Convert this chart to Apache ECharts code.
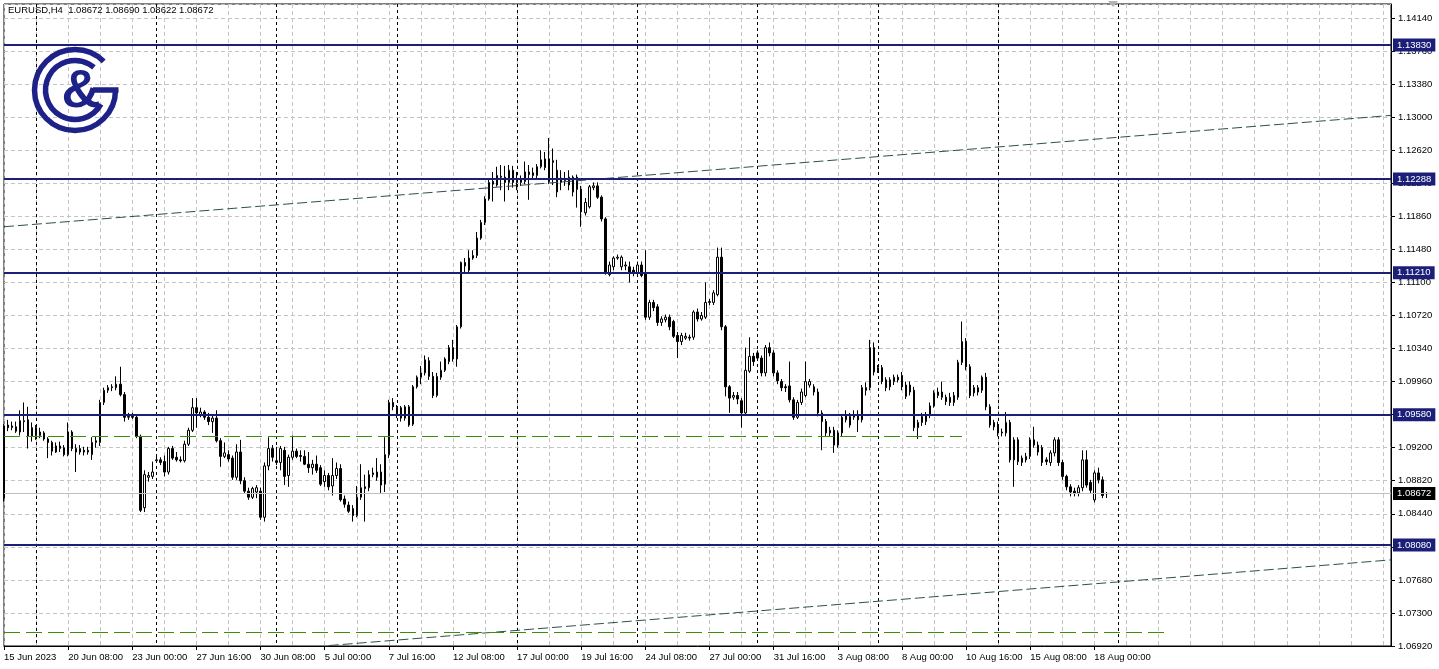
<!DOCTYPE html>
<html><head><meta charset="utf-8">
<script src="https://cdn.jsdelivr.net/npm/echarts@6/dist/echarts.min.js"></script>
<style>html,body{margin:0;padding:0;background:#fff;}#c{width:1439px;height:669px;}</style>
</head><body><div id="c"></div>
<script>
const titleText = 'EURUSD,H4  1.08672 1.08690 1.08622 1.08672';
const tickLabels = ['15 Jun 2023','20 Jun 08:00','23 Jun 00:00','27 Jun 16:00','30 Jun 08:00','5 Jul 00:00','7 Jul 16:00','12 Jul 08:00','17 Jul 00:00','19 Jul 16:00','24 Jul 08:00','27 Jul 00:00','31 Jul 16:00','3 Aug 08:00','8 Aug 00:00','10 Aug 16:00','15 Aug 08:00','18 Aug 00:00'];
const opens = [1.0862,1.0946,1.0943,1.0944,1.0938,1.0951,1.0952,1.0933,1.0943,1.0934,
1.0937,1.0930,1.0926,1.0915,1.0919,1.0920,1.0912,1.0938,1.0919,1.0915,
1.0917,1.0915,1.0912,1.0926,1.0926,1.0972,1.0986,1.0989,1.0989,1.0993,
1.0981,1.0955,1.0956,1.0955,1.0933,1.0851,1.0886,1.0887,1.0905,1.0906,
1.0904,1.0892,1.0919,1.0909,1.0906,1.0905,1.0924,1.0940,1.0966,1.0958,
1.0961,1.0955,1.0950,1.0954,1.0928,1.0910,1.0912,1.0908,1.0886,1.0915,
1.0882,1.0870,1.0863,1.0869,1.0870,1.0840,1.0899,1.0919,1.0905,1.0903,
1.0917,1.0888,1.0909,1.0916,1.0911,1.0910,1.0901,1.0897,1.0901,1.0897,
1.0881,1.0888,1.0876,1.0888,1.0896,1.0861,1.0854,1.0850,1.0842,1.0863,
1.0875,1.0874,1.0889,1.0886,1.0892,1.0878,1.0912,1.0972,1.0957,1.0966,
1.0954,1.0967,1.0947,1.0990,1.1001,1.1006,1.1020,1.1002,1.0980,1.1001,
1.1009,1.1019,1.1035,1.1022,1.1059,1.1133,1.1124,1.1138,1.1141,1.1161,
1.1179,1.1206,1.1226,1.1222,1.1232,1.1231,1.1225,1.1239,1.1227,1.1225,
1.1226,1.1237,1.1236,1.1233,1.1243,1.1242,1.1252,1.1248,1.1239,1.1225,
1.1227,1.1222,1.1214,1.1231,1.1217,1.1190,1.1197,1.1219,1.1221,1.1208,
1.1183,1.1119,1.1128,1.1138,1.1128,1.1129,1.1128,1.1124,1.1121,1.1130,
1.1121,1.1070,1.1087,1.1082,1.1064,1.1067,1.1070,1.1065,1.1049,1.1042,
1.1046,1.1047,1.1047,1.1076,1.1068,1.1070,1.1087,1.1087,1.1096,1.1139,
1.1059,1.0990,1.0978,1.0980,1.0974,1.0960,1.1008,1.1025,1.1029,1.1023,
1.1006,1.1035,1.1029,1.1006,1.0996,1.0990,1.0991,1.0975,1.0955,1.0972,
1.0980,1.0992,1.0990,1.0984,1.0960,1.0950,1.0937,1.0940,1.0923,1.0937,
1.0952,1.0946,1.0955,1.0957,1.0952,1.0989,1.0989,1.1035,1.1012,1.1012,
1.0998,1.0990,1.0996,1.1001,1.1003,1.0992,1.0992,1.0986,1.0943,1.0949,
1.0950,1.0957,1.0968,1.0980,1.0984,1.0978,1.0972,1.0972,1.0978,1.1018,
1.1042,1.1013,1.0983,1.0984,1.0986,1.1001,1.0967,1.0949,1.0946,1.0937,
1.0937,1.0949,1.0906,1.0929,1.0903,1.0906,1.0910,1.0929,1.0923,1.0920,
1.0906,1.0903,1.0914,1.0929,1.0903,1.0887,1.0875,1.0870,1.0868,1.0874,
1.0906,1.0880,1.0860,1.0891,1.0883,1.08672];
const closes = [1.0945,1.0943,1.0945,1.0939,1.0951,1.0950,1.0933,1.0943,1.0934,1.0938,
1.0930,1.0926,1.0916,1.0922,1.0922,1.0912,1.0938,1.0919,1.0915,1.0919,
1.0915,1.0917,1.0926,1.0928,1.0972,1.0986,1.0989,1.0990,1.0993,1.0981,
1.0955,1.0956,1.0955,1.0933,1.0848,1.0889,1.0888,1.0892,1.0906,1.0903,
1.0892,1.0919,1.0908,1.0906,1.0905,1.0924,1.0940,1.0966,1.0960,1.0961,
1.0955,1.0950,1.0954,1.0928,1.0910,1.0914,1.0907,1.0886,1.0915,1.0882,
1.0870,1.0863,1.0873,1.0874,1.0840,1.0899,1.0919,1.0909,1.0903,1.0919,
1.0887,1.0909,1.0916,1.0910,1.0910,1.0901,1.0897,1.0901,1.0894,1.0878,
1.0888,1.0875,1.0888,1.0896,1.0860,1.0855,1.0847,1.0842,1.0863,1.0874,
1.0873,1.0889,1.0891,1.0892,1.0877,1.0912,1.0972,1.0967,1.0966,1.0954,
1.0967,1.0946,1.0990,1.1001,1.1006,1.1021,1.1002,1.0980,1.1002,1.1009,
1.1022,1.1035,1.1022,1.1059,1.1133,1.1129,1.1138,1.1141,1.1161,1.1179,
1.1206,1.1225,1.1223,1.1233,1.1231,1.1225,1.1239,1.1225,1.1225,1.1228,
1.1237,1.1234,1.1233,1.1243,1.1251,1.1252,1.1226,1.1250,1.1214,1.1230,
1.1229,1.1231,1.1231,1.1217,1.1191,1.1202,1.1220,1.1221,1.1208,1.1183,
1.1122,1.1130,1.1138,1.1139,1.1139,1.1130,1.1121,1.1121,1.1130,1.1118,
1.1070,1.1087,1.1081,1.1064,1.1068,1.1070,1.1059,1.1048,1.1042,1.1049,
1.1048,1.1046,1.1076,1.1068,1.1072,1.1087,1.1088,1.1098,1.1139,1.1059,
1.0990,1.0977,1.0980,1.0976,1.0960,1.1009,1.1025,1.1019,1.1023,1.1006,
1.1035,1.1029,1.1006,1.0997,1.0989,1.0989,1.0975,1.0955,1.0972,1.0984,
1.0996,1.0996,1.0984,1.0960,1.0950,1.0937,1.0940,1.0923,1.0937,1.0955,
1.0957,1.0956,1.0957,1.0952,1.0989,1.0986,1.1035,1.1007,1.1009,1.0996,
1.0989,1.0998,1.1001,1.0998,1.0990,1.0979,1.0984,1.0943,1.0949,1.0956,
1.0957,1.0968,1.0983,1.0984,1.0978,1.0973,1.0978,1.0980,1.1018,1.1042,
1.1013,1.0980,1.0989,1.0989,1.1001,1.0967,1.0946,1.0944,1.0937,1.0938,
1.0949,1.0906,1.0929,1.0904,1.0908,1.0910,1.0929,1.0923,1.0915,1.0903,
1.0904,1.0914,1.0929,1.0903,1.0887,1.0875,1.0869,1.0868,1.0874,1.0906,
1.0877,1.0871,1.0891,1.0883,1.0865,1.08672];
const highs = [1.0947,1.0952,1.0950,1.0950,1.0963,1.0972,1.0967,1.0949,1.0946,1.0943,
1.0939,1.0932,1.0928,1.0926,1.0927,1.0923,1.0949,1.0940,1.0924,1.0923,
1.0921,1.0921,1.0932,1.0933,1.0975,1.0989,1.0992,1.0993,1.1002,1.1013,
1.0984,1.0960,1.0960,1.0957,1.0935,1.0894,1.0892,1.0904,1.0911,1.0909,
1.0911,1.0921,1.0922,1.0915,1.0910,1.0928,1.0943,1.0977,1.0977,1.0966,
1.0963,1.0960,1.0957,1.0963,1.0931,1.0926,1.0917,1.0911,1.0924,1.0929,
1.0886,1.0874,1.0875,1.0877,1.0874,1.0903,1.0932,1.0923,1.0921,1.0922,
1.0921,1.0912,1.0934,1.0919,1.0917,1.0917,1.0915,1.0906,1.0911,1.0900,
1.0894,1.0891,1.0908,1.0903,1.0901,1.0865,1.0858,1.0854,1.0876,1.0901,
1.0889,1.0894,1.0897,1.0908,1.0901,1.0932,1.0975,1.0977,1.0969,1.0968,
1.0969,1.0969,1.0992,1.1003,1.1014,1.1026,1.1024,1.1007,1.1006,1.1019,
1.1024,1.1038,1.1044,1.1061,1.1134,1.1138,1.1147,1.1147,1.1168,1.1182,
1.1209,1.1230,1.1237,1.1243,1.1245,1.1244,1.1245,1.1244,1.1237,1.1233,
1.1249,1.1245,1.1242,1.1246,1.1262,1.1260,1.1276,1.1264,1.1251,1.1239,
1.1237,1.1239,1.1233,1.1234,1.1221,1.1207,1.1222,1.1225,1.1225,1.1210,
1.1185,1.1134,1.1140,1.1142,1.1141,1.1134,1.1134,1.1128,1.1134,1.1134,
1.1147,1.1090,1.1090,1.1085,1.1071,1.1073,1.1073,1.1067,1.1053,1.1052,
1.1052,1.1050,1.1078,1.1080,1.1076,1.1110,1.1091,1.1101,1.1150,1.1150,
1.1061,1.0992,1.0984,1.0984,1.0977,1.1035,1.1047,1.1029,1.1032,1.1026,
1.1038,1.1041,1.1032,1.1009,1.0999,1.0993,1.1019,1.0978,1.0975,1.0988,
1.1019,1.0999,1.0993,1.0988,1.0963,1.0953,1.0944,1.0944,1.0940,1.0958,
1.0963,1.0960,1.0963,1.0963,1.0992,1.0995,1.1044,1.1041,1.1015,1.1015,
1.1001,1.1001,1.1004,1.1004,1.1007,1.0996,1.0996,1.0990,1.0952,1.0960,
1.0961,1.0972,1.0986,1.0989,1.0996,1.0981,1.0983,1.0984,1.1021,1.1065,
1.1046,1.1016,1.0992,1.0992,1.1003,1.1006,1.0970,1.0952,1.0950,1.0942,
1.0961,1.0952,1.0932,1.0932,1.0911,1.0914,1.0932,1.0944,1.0927,1.0923,
1.0909,1.0917,1.0932,1.0932,1.0906,1.0889,1.0878,1.0874,1.0877,1.0917,
1.0917,1.0883,1.0894,1.0897,1.0887,1.08690];
const lows = [1.0858,1.0939,1.0940,1.0937,1.0934,1.0938,1.0919,1.0927,1.0929,1.0931,
1.0928,1.0908,1.0911,1.0914,1.0915,1.0910,1.0910,1.0916,1.0892,1.0912,
1.0911,1.0912,1.0906,1.0920,1.0922,1.0969,1.0983,1.0985,1.0986,1.0979,
1.0950,1.0952,1.0953,1.0931,1.0846,1.0846,1.0881,1.0884,1.0903,1.0900,
1.0887,1.0889,1.0906,1.0904,1.0903,1.0903,1.0922,1.0938,1.0943,1.0955,
1.0952,1.0946,1.0937,1.0926,1.0898,1.0908,1.0904,1.0883,1.0883,1.0878,
1.0868,1.0860,1.0861,1.0862,1.0837,1.0835,1.0894,1.0904,1.0900,1.0894,
1.0877,1.0875,1.0906,1.0908,1.0904,1.0900,1.0891,1.0889,1.0891,1.0876,
1.0875,1.0871,1.0865,1.0884,1.0858,1.0851,1.0845,1.0835,1.0840,1.0860,
1.0835,1.0870,1.0886,1.0882,1.0868,1.0869,1.0908,1.0963,1.0954,1.0950,
1.0951,1.0944,1.0945,1.0988,1.0993,1.1003,1.0998,1.0977,1.0978,1.0998,
1.1007,1.1016,1.1019,1.1013,1.1057,1.1122,1.1122,1.1136,1.1138,1.1159,
1.1176,1.1204,1.1203,1.1220,1.1216,1.1203,1.1216,1.1219,1.1216,1.1221,
1.1223,1.1205,1.1230,1.1230,1.1241,1.1239,1.1223,1.1222,1.1208,1.1216,
1.1221,1.1216,1.1209,1.1196,1.1174,1.1187,1.1195,1.1216,1.1206,1.1180,
1.1119,1.1117,1.1124,1.1136,1.1124,1.1124,1.1110,1.1117,1.1117,1.1116,
1.1067,1.1067,1.1077,1.1060,1.1060,1.1064,1.1055,1.1046,1.1023,1.1038,
1.1044,1.1043,1.1044,1.1065,1.1066,1.1068,1.1084,1.1084,1.1094,1.1055,
1.0979,1.0960,1.0975,1.0970,1.0943,1.0957,1.1006,1.1014,1.1020,1.1002,
1.1002,1.1025,1.1002,1.0993,1.0985,1.0984,1.0972,1.0952,1.0953,1.0969,
1.0978,1.0989,1.0980,1.0956,1.0917,1.0933,1.0933,1.0914,1.0920,1.0933,
1.0949,1.0943,1.0952,1.0938,1.0949,1.0980,1.0986,1.1003,1.1006,1.0993,
1.0985,1.0986,1.0992,1.0995,1.0986,1.0976,1.0980,1.0939,1.0930,1.0945,
1.0946,1.0954,1.0966,1.0977,1.0975,1.0969,1.0968,1.0968,1.0975,1.1015,
1.1009,1.0977,1.0979,1.0980,1.0983,1.0963,1.0943,1.0940,1.0933,1.0933,
1.0933,1.0903,1.0875,1.0900,1.0899,1.0903,1.0907,1.0920,1.0911,1.0899,
1.0900,1.0899,1.0910,1.0899,1.0883,1.0871,1.0864,1.0864,1.0864,1.0870,
1.0874,1.0868,1.0857,1.0879,1.0862,1.08622];
const levels = [1.13830, 1.12288, 1.11210, 1.09580, 1.08080];
const bidPrice = 1.08672;
const yTickStart = 1.06920, yTickStep = 0.0038, yTop = 1.14301;
const trendUpper = [[0, 1.1174], [346, 1.1302]];
const trendLower = [[81, 1.06925], [346, 1.0791]];
const greenUpper = [[0, 1.0933], [239, 1.0933]];
const greenLower = [[0, 1.0708], [290, 1.0708]];
const SLOTS = 347;

const FONT = '"Liberation Sans", Arial, sans-serif';
const NAVY = '#1c1f78';
const LOGO = '#1e2288';
const GRID = '#c4c4c4';
const toV = p => Math.round((p - yTickStart) * 1e5);
const cats = Array.from({length: SLOTS}, (_, i) => 'b' + i);
const candles = opens.map((o, i) => [toV(o), toV(closes[i]), toV(lows[i]), toV(highs[i])]);

const tagLine = (v, color, bg, w) => ({
  yAxis: toV(v),
  lineStyle: {color: color, width: w, type: 'solid'},
  label: {show: true, position: 'end', distance: 2, formatter: v.toFixed(5), color: '#fff',
    backgroundColor: bg, padding: [2, 4, 1, 4], fontSize: 9.5, fontFamily: FONT}
});
const segLine = (pts, color, dash) => [
  {coord: [cats[pts[0][0]], toV(pts[0][1])], lineStyle: {color: color, width: 1, type: dash}, label: {show: false}},
  {coord: [cats[pts[1][0]], toV(pts[1][1])]}
];

const chart = echarts.init(document.getElementById('c'));
chart.setOption({
  animation: false,
  backgroundColor: '#fff',
  grid: {left: 4, right: 48, top: 4, bottom: 23, show: true, borderColor: '#000', borderWidth: 1},
  xAxis: [{
    type: 'category', data: cats, boundaryGap: false,
    axisLine: {show: true, lineStyle: {color: '#000', width: 1}},
    axisTick: {show: true, length: 4, interval: i => i % 16 === 0 && i / 16 < tickLabels.length, lineStyle: {color: '#000'}},
    axisLabel: {show: true, interval: i => i % 16 === 0 && i / 16 < tickLabels.length,
      formatter: (v, i) => tickLabels[Math.round(i / 16)] || '', align: 'left', margin: 6,
      color: '#000', fontSize: 9.5, fontFamily: FONT},
    splitLine: {show: true, interval: i => i % 8 === 0, lineStyle: {color: GRID, width: 1, type: [4, 3]}}
  }, {
    type: 'category', data: cats, boundaryGap: false, position: 'top',
    axisLine: {show: false}, axisTick: {show: false}, axisLabel: {show: false},
    splitLine: {show: true, interval: i => i % 30 === 8 && i <= 278, lineStyle: {color: '#000', width: 1, type: [3, 3]}}
  }],
  yAxis: {
    type: 'value', position: 'right', min: 0, max: toV(yTop), interval: Math.round(yTickStep * 1e5),
    axisLine: {show: true, lineStyle: {color: '#000'}},
    axisTick: {show: true, length: 4, lineStyle: {color: '#000'}},
    axisLabel: {formatter: v => (yTickStart + v / 1e5).toFixed(5), showMaxLabel: false, color: '#000',
      fontSize: 9.5, fontFamily: FONT, margin: 7},
    splitLine: {show: true, lineStyle: {color: GRID, width: 1, type: [4, 3]}}
  },
  series: [{
    type: 'candlestick', xAxisIndex: 0, data: candles, barWidth: 2,
    itemStyle: {color: '#fff', color0: '#000', borderColor: '#000', borderColor0: '#000', borderWidth: 1},
    markLine: {
      symbol: ['none', 'none'], silent: true, animation: false,
      data: [
        segLine(trendUpper, '#2f4f4f', [10, 4]),
        segLine(trendLower, '#2f4f4f', [10, 4]),
        segLine(greenUpper, '#3d8c0a', [16, 6]),
        segLine(greenLower, '#3d8c0a', [16, 6]),
        tagLine(bidPrice, '#c0c0c0', '#000', 1),
        ...levels.map(v => tagLine(v, NAVY, NAVY, 2))
      ]
    }
  }],
  graphic: [
    {type: 'text', x: 8, y: 5, z: 100, style: {text: titleText, font: '9.5px "Liberation Sans", Arial', fill: '#000'}},
    {type: 'arc', z: 100, shape: {cx: 75, cy: 90, r: 40.5, startAngle: 0, endAngle: 5.5, clockwise: true}, style: {stroke: LOGO, lineWidth: 5.5, fill: 'none'}},
    {type: 'line', z: 100, shape: {x1: 93, y1: 90, x2: 118.5, y2: 90}, style: {stroke: LOGO, lineWidth: 5.5}},
    {type: 'arc', z: 100, shape: {cx: 75, cy: 90, r: 29.5, startAngle: 0.5, endAngle: 5.41, clockwise: true}, style: {stroke: LOGO, lineWidth: 5.5, fill: 'none'}},
    {type: 'text', z: 100, x: 81, y: 92, style: {text: '&', font: 'bold 54px "Liberation Sans", Arial', fill: LOGO, align: 'center', verticalAlign: 'middle'}},
    {type: 'polygon', z: 100, shape: {points: [[1108, 1], [1118, 1], [1113, 7]]}, style: {fill: '#b4b4b4'}}
  ]
});
</script>
</body></html>
